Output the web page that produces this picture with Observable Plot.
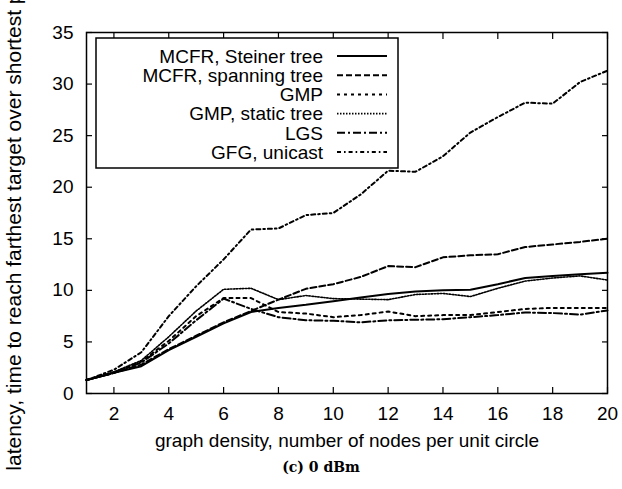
<!DOCTYPE html>
<html>
<head>
<meta charset="utf-8">
<script src="https://cdn.jsdelivr.net/npm/d3@7"></script>
<script src="https://cdn.jsdelivr.net/npm/@observablehq/plot@0.6"></script>
<style>
  html, body { margin: 0; padding: 0; background: #fff; }
  #wrap { position: relative; width: 622px; height: 489px; overflow: hidden; }
  #legend { position: absolute; left: 0; top: 0; }
  #caption { position: absolute; left: 0; top: 459px; width: 602px; padding-left: 20px; text-align: center;
    font-family: "DejaVu Serif", serif; font-weight: bold; font-size: 14px; color: #000; }
</style>
</head>
<body>
<div id="wrap">
  <div id="chart"></div>
  <svg id="legend" width="622" height="200"></svg>
  <div id="caption">(c) 0 dBm</div>
</div>
<script>
// ---- data ----
const density = [1,2,3,4,5,6,7,8,9,10,11,12,13,14,15,16,17,18,19,20];
const mcfrSteiner  = [1.3, 2.0, 2.65, 4.2, 5.5, 6.8, 7.9, 8.3, 8.6, 8.95, 9.3, 9.65, 9.9, 10.0, 10.05, 10.6, 11.2, 11.4, 11.55, 11.7];
const mcfrSpanning = [1.3, 2.0, 2.8, 4.3, 5.6, 6.9, 8.0, 9.1, 10.15, 10.6, 11.3, 12.35, 12.25, 13.2, 13.4, 13.5, 14.2, 14.45, 14.7, 15.0];
const gmp          = [1.3, 2.0, 3.1, 5.1, 7.5, 9.25, 9.25, 7.9, 7.75, 7.4, 7.6, 7.95, 7.5, 7.6, 7.6, 7.9, 8.2, 8.3, 8.3, 8.3];
const gmpStatic    = [1.3, 2.1, 3.2, 5.5, 8.0, 10.1, 10.2, 9.1, 9.5, 9.2, 9.15, 9.1, 9.6, 9.7, 9.4, 10.2, 10.9, 11.2, 11.4, 11.0];
const lgs          = [1.3, 2.0, 3.0, 4.85, 7.1, 9.2, 8.2, 7.4, 7.1, 7.05, 6.9, 7.1, 7.15, 7.2, 7.4, 7.6, 7.85, 7.8, 7.65, 8.05];
const gfgUnicast   = [1.3, 2.3, 4.0, 7.5, 10.4, 13.0, 15.9, 16.0, 17.3, 17.5, 19.3, 21.6, 21.5, 23.0, 25.3, 26.8, 28.2, 28.1, 30.2, 31.3];

const seriesNames = ["MCFR, Steiner tree", "MCFR, spanning tree", "GMP", "GMP, static tree", "LGS", "GFG, unicast"];
const seriesValues = [mcfrSteiner, mcfrSpanning, gmp, gmpStatic, lgs, gfgUnicast];
const xTicks = [2,4,6,8,10,12,14,16,18,20];
const yTicks = [0,5,10,15,20,25,30,35];
const xLabel = "graph density, number of nodes per unit circle";
const yLabel = "latency, time to reach farthest target over shortest path";

// ---- styles ----
const dashes = [null, "6,3", "3,4", "1.5,1.5", "8,3,2,3", "4,3,1.6,3"];
const widths = [2, 2, 2, 1.6, 2, 2];

const tables = seriesValues.map(vals => density.map((x, i) => ({x, y: vals[i]})));

const lineMarks = tables.map((t, i) => Plot.line(t, {
  x: "x", y: "y", stroke: "black", strokeWidth: widths[i],
  strokeDasharray: dashes[i] ?? undefined, strokeLinejoin: "miter"
}));

const chart = Plot.plot({
  width: 622,
  height: 455,
  marginLeft: 86,
  marginRight: 15,
  marginTop: 32,
  marginBottom: 62,
  style: { fontFamily: "'Liberation Sans', Arial, sans-serif", fontSize: "19px", background: "white", color: "black", overflow: "visible" },
  x: { domain: [1, 20] },
  y: { domain: [0, 35] },
  marks: [
    ...lineMarks,
    Plot.axisX(xTicks, { anchor: "bottom", tickSize: -6, tickPadding: 19, fontSize: 19, strokeWidth: 1.2,
      label: xLabel, labelAnchor: "center", labelOffset: 53, labelArrow: "none" }),
    Plot.axisX(xTicks, { anchor: "top", tickSize: -6, tickFormat: () => "", label: null, strokeWidth: 1.2 }),
    Plot.axisY(yTicks, { anchor: "left", tickSize: -6, tickPadding: 19, fontSize: 19, strokeWidth: 1.2, label: null }),
    Plot.axisY(yTicks, { anchor: "right", tickSize: -6, tickFormat: () => "", label: null, strokeWidth: 1.2 }),
    Plot.text([yLabel], { text: d => d, frameAnchor: "left", rotate: -90, dx: -72, dy: 4,
      fontSize: 21, textAnchor: "middle", fill: "black" }),
    Plot.frame({ stroke: "black", strokeWidth: 1.5 })
  ]
});
document.getElementById("chart").appendChild(chart);

// ---- legend (overlay) ----
const lg = d3.select("#legend");
lg.append("rect").attr("x", 96).attr("y", 38).attr("width", 302).attr("height", 130)
  .attr("fill", "white").attr("stroke", "black").attr("stroke-width", 1.5);
seriesNames.forEach((name, i) => {
  const cy = 56 + i * 19.2;
  lg.append("text").attr("x", 323).attr("y", cy).attr("dy", "0.36em")
    .attr("text-anchor", "end").attr("font-family", "'Liberation Sans', Arial, sans-serif")
    .attr("font-size", 19).text(name);
  lg.append("line").attr("x1", 337).attr("x2", 387).attr("y1", cy).attr("y2", cy)
    .attr("stroke", "black").attr("stroke-width", widths[i])
    .attr("stroke-dasharray", dashes[i]);
});
</script>
</body>
</html>
